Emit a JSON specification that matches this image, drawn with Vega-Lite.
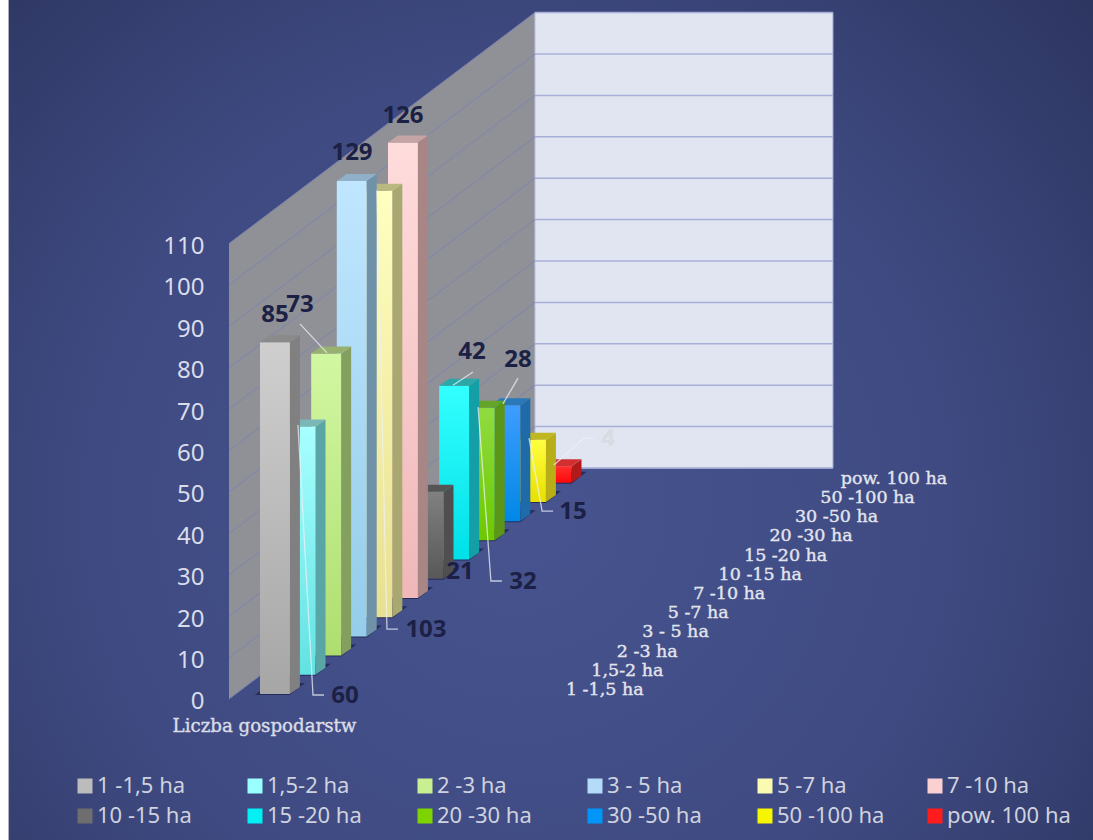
{
"$schema":"https://vega.github.io/schema/vega-lite/v6.json",
"width":1093,"height":840,"padding":0,"autosize":{"type":"none"},"background":"#ffffff",
"config":{"view":{"stroke":null}},
"resolve":{"axis":{"y":"independent"}},
"datasets":{
"bars":[
{"order":12,"name":"pow. 100 ha","value":4},
{"order":11,"name":"50 -100 ha","value":15},
{"order":10,"name":"30 -50 ha","value":28},
{"order":9,"name":"20 -30 ha","value":32},
{"order":8,"name":"15 -20 ha","value":42},
{"order":7,"name":"10 -15 ha","value":21},
{"order":6,"name":"7 -10 ha","value":126},
{"order":5,"name":"5 -7 ha","value":103},
{"order":4,"name":"3 - 5 ha","value":129},
{"order":3,"name":"2 -3 ha","value":73},
{"order":2,"name":"1,5-2 ha","value":60},
{"order":1,"name":"1 -1,5 ha","value":85}
],
"ticks":[{"tick":0},{"tick":10},{"tick":20},{"tick":30},{"tick":40},{"tick":50},{"tick":60},{"tick":70},{"tick":80},{"tick":90},{"tick":100},{"tick":110}]
},
"layer":[
{"data":{"values":[{"part":"background"}]},
 "mark":{"type":"rect","color":{"gradient":"radial","x1":0.47,"y1":0.58,"r1":0,"x2":0.47,"y2":0.58,"r2":0.72,"stops":[{"offset":0,"color":"#47548f"},{"offset":0.55,"color":"#3f4a82"},{"offset":1,"color":"#2c355f"}]}},
 "encoding":{
  "x":{"datum":-9.82,"type":"quantitative","axis":null,"scale":{"domain":[-10.156,32.54],"nice":false,"zero":false}},
  "x2":{"datum":32.54},
  "y":{"datum":-34.06,"type":"quantitative","scale":{"domain":[-34.06,168.84],"nice":false,"zero":false},"axis":{"values":[0,10,20,30,40,50,60,70,80,90,100,110],"offset":-204,"zindex":1,"domain":false,"ticks":false,"grid":false,"title":null,"labelFontSize":24,"labelFont":"Noto Sans","labelColor":"#d9dce9","labelPadding":0,"labelBaseline":"middle","labelOffset":3}},
  "y2":{"datum":168.84}}},
{"data":{"values":[{"depth":0},{"depth":1}]},
 "transform":[{"calculate":"-1.21+datum.depth*11.95","as":"u"},{"calculate":"datum.depth*55.8","as":"lo"},{"calculate":"110+datum.depth*55.8","as":"hi"}],
 "mark":{"type":"area","color":"#8f9197"},
 "encoding":{"x":{"field":"u","type":"quantitative","axis":null},"y":{"field":"lo","type":"quantitative","axis":null,"stack":null},"y2":{"field":"hi"}}},
{"data":{"values":[{"part":"back wall"}]},
 "mark":{"type":"rect","color":"#e1e4f1","stroke":"#b4bbdc","strokeWidth":1},
 "encoding":{"x":{"datum":10.74,"type":"quantitative","axis":null},"x2":{"datum":22.38},"y":{"datum":55.8,"type":"quantitative","axis":null},"y2":{"datum":165.8}}},
{"data":{"name":"ticks"},
 "transform":[{"calculate":"datum.tick+55.8","as":"t2"}],
 "mark":{"type":"rule","color":"#7d84ad","strokeWidth":1},
 "encoding":{"x":{"datum":-1.21,"type":"quantitative","axis":null},"x2":{"datum":10.74},
  "y":{"field":"tick","type":"quantitative","axis":null},
  "y2":{"field":"t2"}}},
{"data":{"name":"ticks"},
 "transform":[{"calculate":"datum.tick+55.8","as":"t2"}],
 "mark":{"type":"rule","color":"#a8b0d8","strokeWidth":1.5},
 "encoding":{"x":{"datum":10.74,"type":"quantitative","axis":null},"x2":{"datum":22.38},"y":{"field":"t2","type":"quantitative","axis":null}}},
{"data":{"name":"bars"},
 "transform":[
  {"calculate":"datum.order-1","as":"i"},
  {"calculate":"min(datum.value,110)","as":"h"},
  {"calculate":"1.2+4.64*datum.i","as":"b"},
  {"calculate":"datum.b+datum.h","as":"t"},
  {"calculate":"['#cfcfcf','#a8ffff','#d2f7a2','#c0e6ff','#ffffc0','#ffdcdc','#808080','#33ffff','#90dc40','#3d9dff','#ffff40','#ff3030'][datum.i]","as":"c0"},
  {"calculate":"['#a6a6a6','#62e2e2','#aede70','#95cdea','#e8e090','#f0b8b8','#585858','#00e0e8','#6cc800','#0088e6','#e8e000','#ff0808'][datum.i]","as":"c1"},
  {"calculate":"['#808080','#5aa5a5','#84a060','#6f92a8','#a8a870','#a88686','#4f4f4f','#149ea5','#5c9618','#1f6aa8','#b8ae18','#b01a1a'][datum.i]","as":"cs"},
  {"calculate":"['#8a8a8a','#7ab8b8','#98b070','#8fb0c8','#b8b880','#c4a4a4','#555555','#2aa8a8','#64a428','#2a78b8','#c0b820','#d03030'][datum.i]","as":"ct"},
  {"calculate":"{gradient:'linear',x1:0,y1:0,x2:0,y2:1,stops:[{offset:0,color:datum.c0},{offset:1,color:datum.c1}]}","as":"grad"},
  {"calculate":"[{f:'shadow',u:datum.i-0.2,lo:datum.b-0.24,hi:datum.b-0.24,c:'#252c5a'},{f:'shadow',u:datum.i+0.39,lo:datum.b-0.24,hi:datum.b+2.66,c:'#252c5a'},{f:'shadow',u:datum.i+1.17,lo:datum.b-0.24,hi:datum.b+2.66,c:'#252c5a'},{f:'shadow',u:datum.i+1.76,lo:datum.b+2.66,hi:datum.b+2.66,c:'#252c5a'},{f:'front',u:datum.i,lo:datum.b,hi:datum.t,c:datum.grad},{f:'front',u:datum.i+1.17,lo:datum.b,hi:datum.t,c:datum.grad},{f:'side',u:datum.i+1.17,lo:datum.b,hi:datum.t,c:datum.cs},{f:'side',u:datum.i+1.56,lo:datum.b+1.69,hi:datum.t+1.69,c:datum.cs},{f:'top',u:datum.i,lo:datum.t,hi:datum.t,c:datum.ct},{f:'top',u:datum.i+0.39,lo:datum.t,hi:datum.t+1.69,c:datum.ct},{f:'top',u:datum.i+1.17,lo:datum.t,hi:datum.t+1.69,c:datum.ct},{f:'top',u:datum.i+1.56,lo:datum.t+1.69,hi:datum.t+1.69,c:datum.ct}]","as":"pts"},
  {"flatten":["pts"]},
  {"calculate":"datum.pts.u","as":"pu"},
  {"calculate":"datum.pts.lo","as":"plo"},
  {"calculate":"datum.pts.hi","as":"phi"},
  {"calculate":"datum.pts.c","as":"pc"},
  {"calculate":"datum.name+' '+datum.pts.f","as":"face"}
 ],
 "mark":{"type":"area","interpolate":"linear"},
 "encoding":{
  "x":{"field":"pu","type":"quantitative","axis":null},
  "y":{"field":"plo","type":"quantitative","axis":null,"stack":null},
  "y2":{"field":"phi"},
  "detail":{"field":"face"},
  "fill":{"field":"pc","type":"nominal","scale":null,"legend":null}}},
{"data":{"name":"bars"},
 "transform":[
  {"filter":"datum.order!=1&&datum.order!=4&&datum.order!=6&&datum.order!=7"},
  {"calculate":"{3:[[1.5625,90.6],[2.617,83.6]],2:[[1.484,66.2],[2.07,0.97],[2.5,0.97]],5:[[4.57,122.9],[4.96,16.9],[5.39,16.9]],8:[[7.54,75.8],[8.32,79.0]],10:[[9.49,71.3],[10.08,77.5]],9:[[8.52,70.5],[9.02,28.5],[9.45,28.5]],11:[[10.51,63.0],[11.02,45.4],[11.45,45.4]],12:[[11.48,56.5],[12.66,63.0],[13.05,63.0]]}[datum.order]","as":"leader"},
  {"flatten":["leader"]},
  {"calculate":"datum.leader[0]","as":"lu"},
  {"calculate":"datum.leader[1]","as":"lv"}
 ],
 "mark":{"type":"line","color":"#eef0f6","opacity":0.75,"strokeWidth":1.3},
 "encoding":{"x":{"field":"lu","type":"quantitative","axis":null},"y":{"field":"lv","type":"quantitative","axis":null},"detail":{"field":"name"}}},
{"data":{"name":"bars"},
 "transform":[
  {"calculate":"[0.586,3.32,1.563,3.594,6.484,5.586,7.813,8.281,10.27,10.08,12.23,13.6][datum.order-1]","as":"lu"},
  {"calculate":"[92.8,0.72,95.2,131.9,16.67,140.8,30.6,83.8,28.3,81.9,45.2,62.8][datum.order-1]","as":"lv"}
 ],
 "mark":{"type":"text","font":"Noto Sans","fontWeight":700,"fontSize":24,"baseline":"middle","align":"center"},
 "encoding":{"x":{"field":"lu","type":"quantitative","axis":null},"y":{"field":"lv","type":"quantitative","axis":null},"text":{"field":"value","type":"quantitative"},
  "color":{"condition":{"test":"datum.order==12","value":"#d9dbe3"},"value":"#1b2044"}}},
{"data":{"name":"bars"},
 "transform":[
  {"calculate":"11.95+0.994*(datum.order-1)-(datum.order==12?0.2:0)","as":"lu"},
  {"calculate":"2.17+4.64*(datum.order-1)","as":"lv"}
 ],
 "mark":{"type":"text","font":"DejaVu Serif","fontSize":17.5,"baseline":"middle","align":"left","color":"#e2e4ec","stroke":"#e2e4ec","strokeWidth":0.4},
 "encoding":{"x":{"field":"lu","type":"quantitative","axis":null},"y":{"field":"lv","type":"quantitative","axis":null},"text":{"field":"name"}}},
{"data":{"values":[{"label":"Liczba gospodarstw"}]},
 "mark":{"type":"text","font":"DejaVu Serif","fontSize":18.2,"baseline":"middle","align":"center","color":"#dadce6","stroke":"#dadce6","strokeWidth":0.4},
 "encoding":{"x":{"datum":0.176,"type":"quantitative","axis":null},"y":{"datum":-6.76,"type":"quantitative","axis":null},"text":{"field":"label"}}},
{"data":{"name":"bars"},
 "mark":{"type":"point","filled":true,"opacity":0},
 "encoding":{
  "x":{"datum":0,"type":"quantitative","axis":null},"y":{"datum":0,"type":"quantitative","axis":null},
  "color":{"field":"name","type":"nominal",
   "scale":{"domain":["1 -1,5 ha","1,5-2 ha","2 -3 ha","3 - 5 ha","5 -7 ha","7 -10 ha","10 -15 ha","15 -20 ha","20 -30 ha","30 -50 ha","50 -100 ha","pow. 100 ha"],
    "range":["#bcbcbc","#99ffff","#c8f090","#b4dcf8","#fafab0","#fad0d0","#6e6e6e","#00f0f4","#7ed400","#0096f8","#f6f600","#ff1c1c"]},
   "legend":{"title":null,"orient":"none","legendX":74,"legendY":775,"direction":"horizontal","columns":6,"gridAlign":"all","columnPadding":23,"rowPadding":8,"padding":0,"symbolType":"square","symbolSize":225,"symbolOpacity":1,"symbolStrokeWidth":0,"labelFont":"Noto Sans","labelFontSize":22,"labelColor":"#cfd2de","labelLimit":200,"labelOffset":1}}}}
]
}
